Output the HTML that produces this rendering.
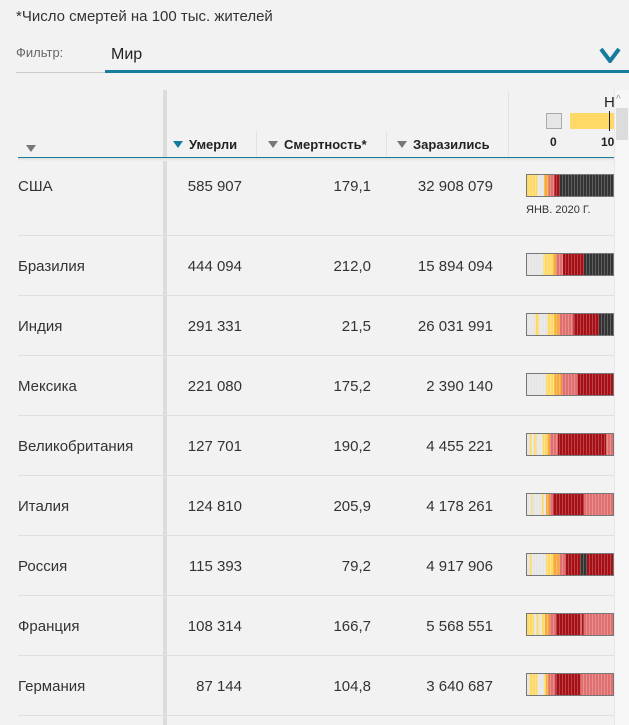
<!DOCTYPE html>
<html><head><meta charset="utf-8"><style>
body{margin:0;width:629px;height:725px;background:#f2f2f2;font-family:"Liberation Sans","DejaVu Sans",sans-serif;overflow:hidden;position:relative;color:#222}
.a{position:absolute;white-space:nowrap}
.row{position:absolute;left:18px;width:596px;border-bottom:1px solid #dedede}
.c{position:absolute;font-size:15px;color:#333}
.n{text-align:right}
.s{position:absolute;left:508px;width:86px;height:21px;border:1px solid #777;overflow:hidden}
.s:after{content:"";position:absolute;inset:0;background:repeating-linear-gradient(90deg,rgba(255,255,255,0) 0 2px,rgba(255,255,255,.22) 2px 3px)}
.h{font-size:13px;font-weight:bold;color:#222;top:137px}
.tri{display:inline-block;width:0;height:0;border-left:5px solid transparent;border-right:5px solid transparent;border-top:7px solid #777;margin-right:6px;vertical-align:1px}
</style></head><body>
<div class="a" style="left:16px;top:8px;font-size:15px;color:#333">*Число смертей на 100 тыс. жителей</div>
<div class="a" style="left:16px;top:45px;font-size:13px;color:#666">Фильтр:</div>
<div class="a" style="left:16px;top:72px;width:89px;height:1px;background:#ccc"></div>
<div class="a" style="left:111px;top:46px;font-size:16px;color:#222">Мир</div>
<div class="a" style="left:105px;top:70px;width:524px;height:3px;background:#167b9c"></div>
<svg class="a" style="left:599px;top:47px" width="22" height="16"><path d="M2 2 L11 14 L20 2" stroke="#167b9c" stroke-width="4" fill="none"/></svg>

<div class="a" style="left:163px;top:90px;width:4px;height:635px;background:#dcdcdc"></div>
<div class="a" style="left:18px;top:157px;width:596px;height:1px;background:#167b9c"></div>
<div class="a" style="left:18px;top:158px;width:596px;height:3px;background:linear-gradient(#ddd,#f2f2f2)"></div>
<div class="a" style="left:256px;top:132px;width:1px;height:25px;background:#e2e2e2"></div>
<div class="a" style="left:386px;top:132px;width:1px;height:25px;background:#e2e2e2"></div>
<div class="a" style="left:508px;top:92px;width:1px;height:65px;background:#e2e2e2"></div>
<div class="a" style="left:26px;top:140px"><span class="tri" style="border-top-color:#777"></span></div>
<div class="a h" style="left:173px"><span class="tri" style="border-top-color:#167b9c"></span>Умерли</div>
<div class="a h" style="left:268px"><span class="tri"></span>Смертность*</div>
<div class="a h" style="left:397px"><span class="tri"></span>Заразились</div>
<div class="a" style="left:546px;top:113px;width:14px;height:14px;background:#e6e6e6;border:1px solid #aaa"></div>
<div class="a" style="left:570px;top:113px;width:44px;height:16px;background:#ffd966"></div>
<div class="a" style="left:609px;top:111px;width:1px;height:20px;background:#222"></div>
<div class="a" style="left:604px;top:94px;font-size:15px;color:#222">Н</div>
<div class="a" style="left:550px;top:135px;font-size:12px;font-weight:bold;color:#222">0</div>
<div class="a" style="left:601px;top:135px;font-size:12px;font-weight:bold;color:#222">10</div>

<div class="row" style="top:157px;height:78px">
<div class="c" style="left:0;top:21px">США</div><div class="c n" style="left:124px;width:100px;top:21px">585 907</div><div class="c n" style="left:253px;width:100px;top:21px">179,1</div><div class="c n" style="left:375px;width:100px;top:21px">32 908 079</div>
<div class="s" style="top:17px;background:linear-gradient(90deg,#ffd966 0 12%,#e6e6e6 12% 20%,#f7a93a 20% 25%,#e07070 25% 32%,#a50f15 32% 38%,#333 38%)"></div>
<div class="c" style="left:508px;top:47px;font-size:11px">ЯНВ. 2020 Г.</div></div>
<div class="row" style="top:235px;height:60px"><div class="c" style="left:0;top:23px">Бразилия</div><div class="c n" style="left:124px;width:100px;top:23px">444 094</div><div class="c n" style="left:253px;width:100px;top:23px">212,0</div><div class="c n" style="left:375px;width:100px;top:23px">15 894 094</div>
<div class="s" style="top:18px;background:linear-gradient(90deg,#e6e6e6 0 19%,#ffd966 19% 30%,#f7a93a 30% 34%,#e07070 34% 42%,#a50f15 42% 66%,#333 66%)"></div></div>
<div class="row" style="top:295px;height:60px"><div class="c" style="left:0;top:23px">Индия</div><div class="c n" style="left:124px;width:100px;top:23px">291 331</div><div class="c n" style="left:253px;width:100px;top:23px">21,5</div><div class="c n" style="left:375px;width:100px;top:23px">26 031 991</div>
<div class="s" style="top:18px;background:linear-gradient(90deg,#e6e6e6 0 10%,#ffd966 10% 14%,#e6e6e6 14% 24%,#ffd966 24% 32%,#f7a93a 32% 38%,#e07070 38% 54%,#a50f15 54% 84%,#333 84%)"></div></div>
<div class="row" style="top:355px;height:60px"><div class="c" style="left:0;top:23px">Мексика</div><div class="c n" style="left:124px;width:100px;top:23px">221 080</div><div class="c n" style="left:253px;width:100px;top:23px">175,2</div><div class="c n" style="left:375px;width:100px;top:23px">2 390 140</div>
<div class="s" style="top:18px;background:linear-gradient(90deg,#e6e6e6 0 22%,#ffd966 22% 32%,#f7a93a 32% 40%,#e07070 40% 59%,#a50f15 59%)"></div></div>
<div class="row" style="top:415px;height:60px"><div class="c" style="left:0;top:23px">Великобритания</div><div class="c n" style="left:124px;width:100px;top:23px">127 701</div><div class="c n" style="left:253px;width:100px;top:23px">190,2</div><div class="c n" style="left:375px;width:100px;top:23px">4 455 221</div>
<div class="s" style="top:18px;background:linear-gradient(90deg,#e6e6e6 0 3%,#ffd966 3% 5%,#e6e6e6 5% 8%,#ffd966 8% 11%,#e6e6e6 11% 18%,#ffd966 18% 24%,#f7a93a 24% 27%,#e07070 27% 36%,#a50f15 36% 92%,#e07070 92%)"></div></div>
<div class="row" style="top:475px;height:60px"><div class="c" style="left:0;top:23px">Италия</div><div class="c n" style="left:124px;width:100px;top:23px">124 810</div><div class="c n" style="left:253px;width:100px;top:23px">205,9</div><div class="c n" style="left:375px;width:100px;top:23px">4 178 261</div>
<div class="s" style="top:18px;background:linear-gradient(90deg,#e6e6e6 0 5%,#ffd966 5% 7%,#e6e6e6 7% 17%,#ffd966 17% 19%,#e6e6e6 19% 22%,#f7a93a 22% 26%,#e07070 26% 30%,#a50f15 30% 66%,#e07070 66%)"></div></div>
<div class="row" style="top:535px;height:60px"><div class="c" style="left:0;top:23px">Россия</div><div class="c n" style="left:124px;width:100px;top:23px">115 393</div><div class="c n" style="left:253px;width:100px;top:23px">79,2</div><div class="c n" style="left:375px;width:100px;top:23px">4 917 906</div>
<div class="s" style="top:18px;background:linear-gradient(90deg,#e6e6e6 0 3%,#ffd966 3% 5%,#e6e6e6 5% 22%,#ffd966 22% 30%,#f7a93a 30% 38%,#e07070 38% 45%,#a50f15 45% 62%,#333 62% 70%,#a50f15 70%)"></div></div>
<div class="row" style="top:595px;height:60px"><div class="c" style="left:0;top:23px">Франция</div><div class="c n" style="left:124px;width:100px;top:23px">108 314</div><div class="c n" style="left:253px;width:100px;top:23px">166,7</div><div class="c n" style="left:375px;width:100px;top:23px">5 568 551</div>
<div class="s" style="top:18px;background:linear-gradient(90deg,#ffd966 0 8%,#e6e6e6 8% 11%,#ffd966 11% 14%,#e6e6e6 14% 17%,#ffd966 17% 21%,#f7a93a 21% 26%,#e07070 26% 34%,#a50f15 34% 62%,#e07070 62% 64%,#a50f15 64% 66%,#e07070 66%)"></div></div>
<div class="row" style="top:655px;height:60px"><div class="c" style="left:0;top:23px">Германия</div><div class="c n" style="left:124px;width:100px;top:23px">87 144</div><div class="c n" style="left:253px;width:100px;top:23px">104,8</div><div class="c n" style="left:375px;width:100px;top:23px">3 640 687</div>
<div class="s" style="top:18px;background:linear-gradient(90deg,#e6e6e6 0 3%,#ffd966 3% 12%,#e6e6e6 12% 20%,#ffd966 20% 22%,#f7a93a 22% 25%,#e07070 25% 33%,#a50f15 33% 62%,#e07070 62%)"></div></div>

<div class="a" style="left:614px;top:90px;width:15px;height:635px;background:#f7f7f7;border-left:1px solid #e8e8e8"></div>
<div class="a" style="left:616px;top:94px;font-size:10px;color:#999">^</div>
<div class="a" style="left:616px;top:108px;width:12px;height:32px;background:#dcdcdc"></div>
</body></html>
